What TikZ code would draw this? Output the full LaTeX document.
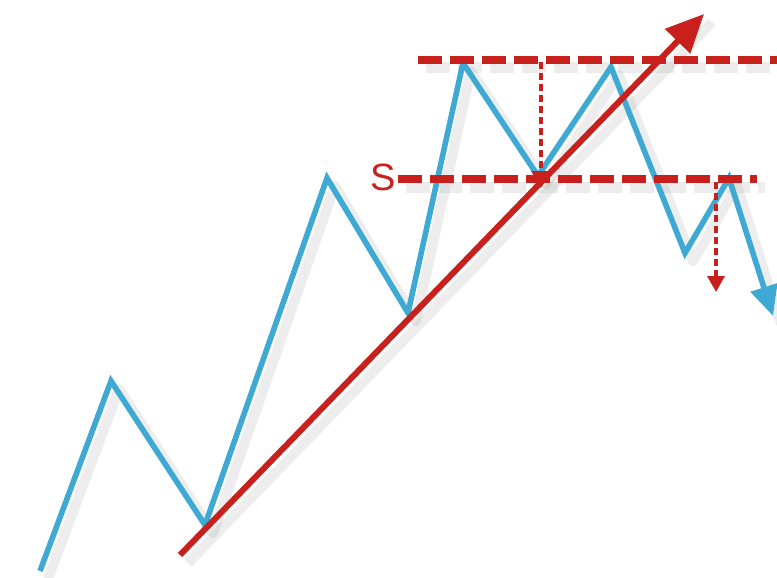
\documentclass[tikz,border=0pt]{standalone}
\usepackage{fontspec}
\setmainfont{Liberation Sans}
\usetikzlibrary{arrows.meta}
\definecolor{zblue}{RGB}{62,170,212}
\definecolor{zred}{RGB}{200,32,28}
\tikzset{
  zig/.style={zblue,line width=5.6pt,line join=miter},
  trend/.style={zred,line width=6pt},
  level/.style={zred,line width=7.5pt,dash pattern=on 24pt off 8pt},
  drop/.style={zred,line width=3.4pt,dash pattern=on 7pt off 4pt},
  shade/.style={black!50,opacity=0.14},
}
\begin{document}
\begin{tikzpicture}[x=1pt,y=-1pt]
\useasboundingbox (0,0) rectangle (777,578);
% points of the zigzag
\coordinate (p0) at (40,571);
\coordinate (p1) at (111,381);
\coordinate (p2) at (205,525);
\coordinate (p3) at (327,178);
\coordinate (p4) at (408,313);
\coordinate (p5) at (463,63);
\coordinate (p6) at (538,176);
\coordinate (p7) at (611,67);
\coordinate (p8) at (685,253);
\coordinate (p9) at (729,178);
\coordinate (p10) at (773,316);
% trend line ends
\coordinate (t0) at (180,555);
\coordinate (t1) at (704,14);
% level lines
\coordinate (a0) at (418,60);
\coordinate (a1) at (777,60);
\coordinate (b0) at (398,179);
\coordinate (b1) at (757,179);
% drop arrows
\coordinate (d0) at (541,62);
\coordinate (d1) at (541,188);
\coordinate (e0) at (716,182);
\coordinate (e1) at (716,292);
% shadows
\begin{scope}[transform canvas={shift={(8,8)}}]
\draw[shade,line width=10pt,line join=round] (p0)--(p1)--(p2)--(p3)--(p4)--(p5)--(p6)--(p7)--(p8)--(p9)--(p10);
\draw[shade,line width=10pt] (t0)--(t1);
\draw[shade,line width=11pt,dash pattern=on 24pt off 8pt] (a0)--(a1);
\draw[shade,line width=11pt,dash pattern=on 24pt off 8pt] (b0)--(b1);
\end{scope}
% blue zigzag
\draw[zig,-{Triangle[length=30pt,width=27pt]}] (p0)--(p1)--(p2)--(p3)--(p4)--(p5)--(p6)--(p7)--(p8)--(p9)--(p10);
% levels
\draw[level] (a0)--(a1);
\draw[level] (b0)--(b1);
\node[zred,font=\fontsize{38}{38}\selectfont,anchor=east,inner sep=0pt] (s) at (396,177) {S};
% drops
\draw[drop,-{Triangle[length=17pt,width=19pt]}] (d0)--(d1);
\draw[drop,-{Triangle[length=16pt,width=17pt]}] (e0)--(e1);
% trend line
\draw[trend,-{Triangle[length=38pt,width=34pt]}] (t0)--(t1);
\end{tikzpicture}
\end{document}
